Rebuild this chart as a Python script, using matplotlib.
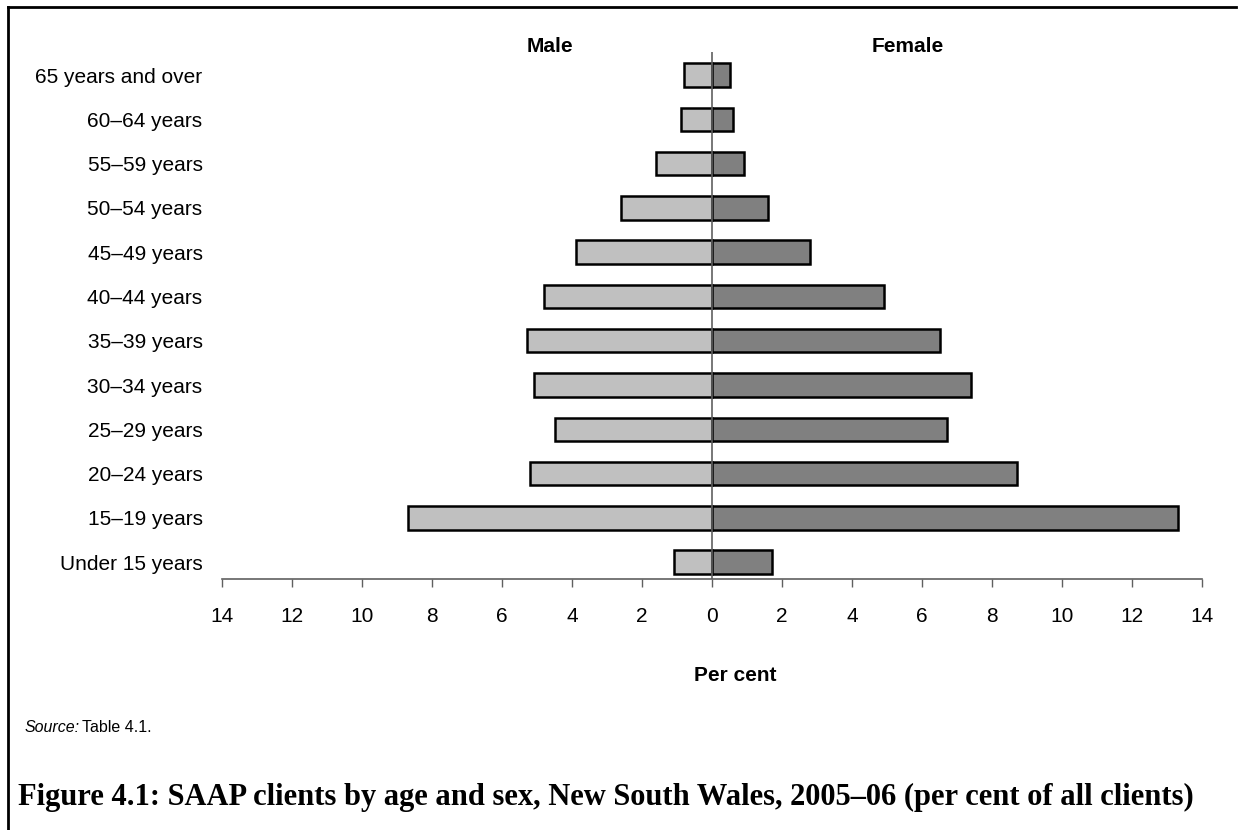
import matplotlib.pyplot as plt
import numpy as np
from matplotlib.lines import Line2D

plt.rcParams['font.family'] = ['Liberation Sans', 'DejaVu Sans']

# age groups, bottom to top
ages = ['Under 15 years', '15\u201319 years', '20\u201324 years', '25\u201329 years',
        '30\u201334 years', '35\u201339 years', '40\u201344 years', '45\u201349 years',
        '50\u201354 years', '55\u201359 years', '60\u201364 years', '65 years and over']

# per cent of all clients
male = [1.1, 8.7, 5.2, 4.5, 5.1, 5.3, 4.8, 3.9, 2.6, 1.6, 0.9, 0.8]
female = [1.7, 13.3, 8.7, 6.7, 7.4, 6.5, 4.9, 2.8, 1.6, 0.9, 0.6, 0.5]

ticks = np.arange(-14, 15, 2)

fig = plt.figure(figsize=(12.44, 8.3), dpi=100)
ax = fig.add_axes([222 / 1244, 1 - 579 / 830, 980 / 1244, (579 - 52) / 830])

y = np.arange(len(ages))
ax.barh(y, -np.array(male), height=0.53, color='#c0c0c0', edgecolor='black', linewidth=1.8, zorder=2)
ax.barh(y, female, height=0.53, color='#808080', edgecolor='black', linewidth=1.8, zorder=2)
ax.axvline(0, color='#606060', linewidth=1.2, zorder=3)

ax.set_xlim(-14, 14)
ax.set_ylim(-0.38, 11.52)
ax.set_xticks(ticks)
ax.set_xticklabels([str(abs(t)) for t in ticks], fontsize=15)
ax.set_yticks(y)
ax.set_yticklabels(ages, fontsize=15)
ax.tick_params(axis='y', length=0, pad=14)
ax.tick_params(axis='x', direction='out', length=6, width=1, color='#606060', pad=14)

for side in ['left', 'right', 'top']:
    ax.spines[side].set_visible(False)
ax.spines['bottom'].set_color('#606060')
ax.spines['bottom'].set_linewidth(1.2)

fig.text(550 / 1244, 1 - 47 / 830, 'Male', fontsize=15, fontweight='bold', ha='center', va='center')
fig.text(908 / 1244, 1 - 47 / 830, 'Female', fontsize=15, fontweight='bold', ha='center', va='center')
fig.text(735 / 1244, 1 - 675 / 830, 'Per cent', fontsize=15, fontweight='bold', ha='center', va='center')

fig.text(25 / 1244, 1 - 727 / 830, 'Source:', fontsize=11.5, style='italic', ha='left', va='center')
fig.text(82 / 1244, 1 - 727 / 830, 'Table 4.1.', fontsize=11.5, ha='left', va='center')

fig.text(18 / 1244, 1 - 797 / 830,
         'Figure 4.1: SAAP clients by age and sex, New South Wales, 2005\u201306 (per cent of all clients)',
         fontsize=22, fontweight='bold', family=['Liberation Serif', 'DejaVu Serif'],
         ha='left', va='center')

# page frame (left and top edges)
fig.add_artist(Line2D([8 / 1244, 8 / 1244], [0, 1 - 7 / 830], color='black', linewidth=2))
fig.add_artist(Line2D([8 / 1244, 1236 / 1244], [1 - 7 / 830, 1 - 7 / 830], color='black', linewidth=2))

fig.savefig('out.png', dpi=100)
